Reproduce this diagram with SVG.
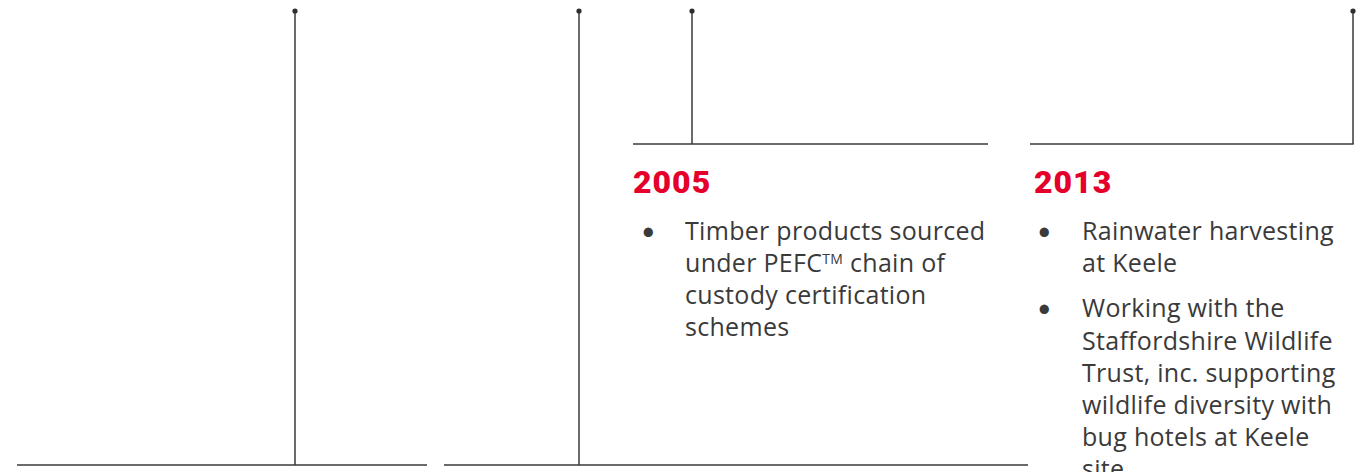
<svg xmlns="http://www.w3.org/2000/svg" width="1372" height="472" viewBox="0 0 1372 472">
<style>
.ln{stroke:#3a3a3a;stroke-width:1.5;fill:none}
.dot{fill:#2e2e2e}
.yr{font-family:Roboto,"Liberation Sans",sans-serif;font-weight:900;font-size:32px;letter-spacing:1px;fill:#e4002b}
.tx{font-family:"Open Sans","Liberation Sans",sans-serif;font-size:25px;letter-spacing:0.3px;fill:#3a3a3a}
.bl{font-family:Lato,"Liberation Sans",sans-serif;font-size:25px;fill:#3a3a3a}
</style>
<rect width="1372" height="472" fill="#ffffff"/>
<g id="connectors">
<line class="ln" x1="295" y1="11" x2="295" y2="465"/>
<line class="ln" x1="579" y1="11" x2="579" y2="465"/>
<line class="ln" x1="692" y1="11" x2="692" y2="144"/>
<line class="ln" x1="1353" y1="11" x2="1353" y2="144"/>
<line class="ln" x1="633" y1="144" x2="988" y2="144"/>
<line class="ln" x1="1030" y1="144" x2="1353.7" y2="144"/>
<line class="ln" x1="17" y1="465" x2="427" y2="465"/>
<line class="ln" x1="444" y1="465" x2="1028" y2="465"/>
<circle class="dot" cx="295" cy="11" r="2.6"/>
<circle class="dot" cx="579" cy="11" r="2.6"/>
<circle class="dot" cx="692" cy="11" r="2.6"/>
<circle class="dot" cx="1353" cy="11" r="2.6"/>
</g>
<g id="node-2005">
<text class="yr" x="633" y="193">2005</text>
<text class="bl" x="641" y="240">•</text>
<text class="tx" x="685" y="240">Timber products sourced</text>
<text class="tx" x="685" y="272">under PEFC<tspan font-size="14" dy="-8">TM</tspan><tspan dy="8"> chain of</tspan></text>
<text class="tx" x="685" y="304">custody certification</text>
<text class="tx" x="685" y="336">schemes</text>
</g>
<g id="node-2013">
<text class="yr" x="1034" y="193">2013</text>
<text class="bl" x="1037" y="240">•</text>
<text class="tx" x="1082" y="240">Rainwater harvesting</text>
<text class="tx" x="1082" y="272">at Keele</text>
<text class="bl" x="1037" y="317">•</text>
<text class="tx" x="1082" y="317">Working with the</text>
<text class="tx" x="1082" y="350">Staffordshire Wildlife</text>
<text class="tx" x="1082" y="382">Trust, inc. supporting</text>
<text class="tx" x="1082" y="414">wildlife diversity with</text>
<text class="tx" x="1082" y="446">bug hotels at Keele</text>
<text class="tx" x="1082" y="478">site</text>
</g>
</svg>
